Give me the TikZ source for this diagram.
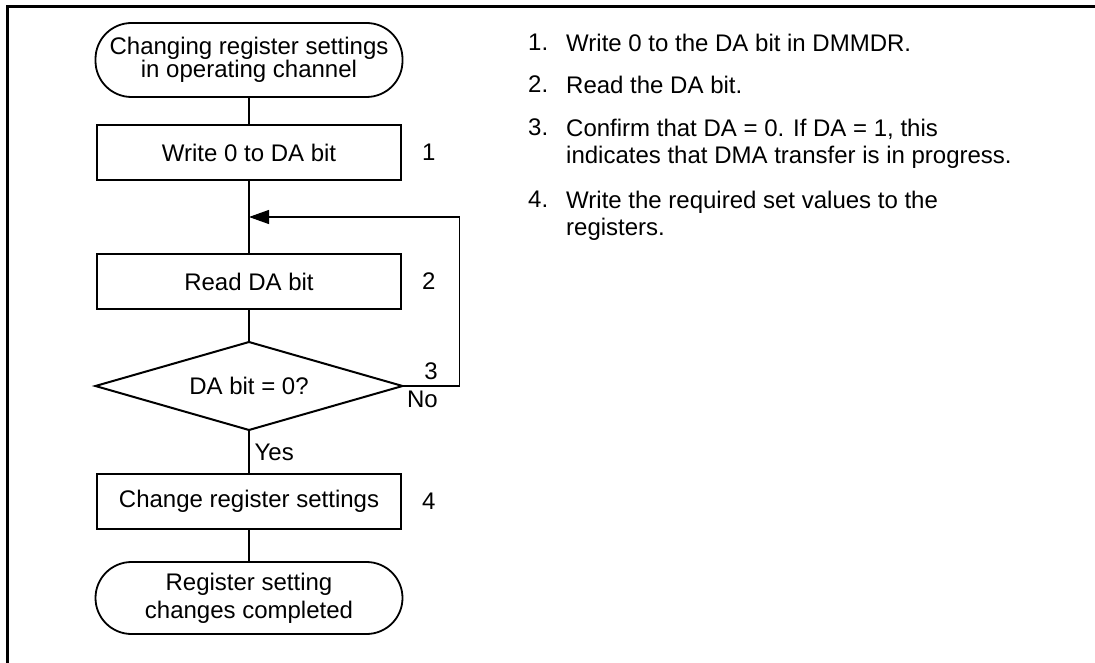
\documentclass[tikz,border=0pt]{standalone}
\usepackage{fontspec}
\setmainfont{Liberation Sans}
\usetikzlibrary{positioning,calc,shapes.geometric,arrows.meta}

\begin{document}
\begin{tikzpicture}[x=1pt, y=1pt,
  every node/.style={font=\fontsize{24}{28}\selectfont},
  term/.style={draw, line width=1.8pt, rounded corners=36pt, minimum width=307pt,
               minimum height=74pt, align=center, inner sep=2pt, outer sep=0pt},
  proc/.style={draw, line width=2.4pt, minimum width=304pt, minimum height=55pt, outer sep=0pt},
  dec/.style={draw, diamond, line width=2pt, minimum width=307pt, minimum height=88pt,
              shape aspect=3.5, inner sep=0pt, outer sep=0pt},
  stepno/.style={inner sep=0pt},
  note/.style={anchor=north west, inner sep=0pt, align=left,
               font=\fontsize{24}{27}\selectfont},
  link/.style={line width=1.2pt},
  arr/.style={link, -{Triangle[length=20pt, width=14pt]}}
]
  \useasboundingbox (0,0) rectangle (1095,-663);
  \draw[line width=2.5pt] (7.5,-663) |- (1095,-6.5);

  % Flow
  \node[term] (start) at (249,-60) {Changing register settings\\[-5pt]in operating channel};
  \node[proc, below=28pt of start] (write) {Write 0 to DA bit};
  \node[proc, below=74pt of write] (read) {Read DA bit};
  \node[dec, below=33pt of read] (check) {DA bit = 0?};
  \node[proc, below=44pt of check] (change) {Change register settings};
  \node[term, minimum height=72pt, below=33pt of change] (done) {Register setting\\changes completed};

  % Step numbers
  \node[stepno, right=21pt of write] (n1) {1};
  \node[stepno, right=21pt of read] (n2) {2};
  \node[stepno, right=21pt of change] (n4) {4};

  \coordinate (join) at ($(write.south)!0.5!(read.north)$);

  \draw[link] (start) -- (write);
  \draw[link] (write) -- (read);
  \draw[link] (read) -- (check);
  \draw[link] (check) -- node[right, inner sep=5pt] {Yes} (change);
  \draw[link] (change) -- (done);
  \draw[arr] (check.east) node[below right, inner sep=4pt] (no) {No}
    -- node[above, inner sep=6pt] (n3) {3} ++(57,0) |- (join);

  % Notes
  \foreach \n/\y/\txt in {1/34/{Write 0 to the DA bit in DMMDR.},
                          2/76/{Read the DA bit.},
                          3/119/{Confirm that DA = 0. If DA = 1, this\\indicates that DMA transfer is in progress.},
                          4/191/{Write the required set values to the\\registers.}}{
    \node[note] (num\n) at (528,-\y) {\n.};
    \node[note] (note\n) at (566,-\y) {\txt};
  }
\end{tikzpicture}
\end{document}
